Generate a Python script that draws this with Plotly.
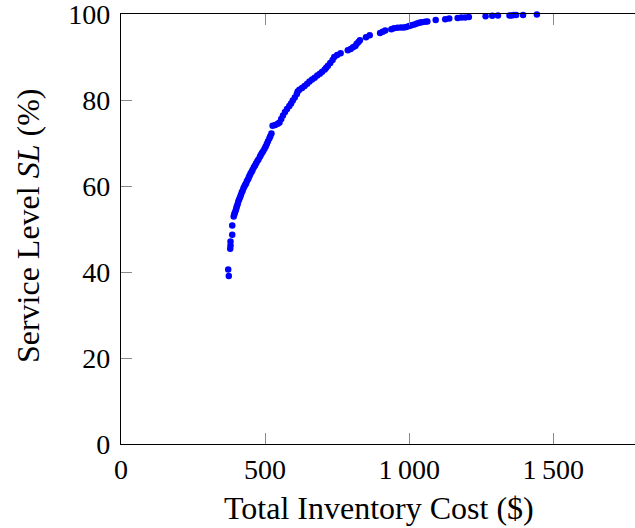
import plotly.graph_objects as go

# Total inventory cost ($) and resulting service level SL (%) per policy
cost = [
    374, 372, 379, 380, 380, 386, 386,
    391, 393, 395, 398, 400, 402, 405, 407, 410, 413, 416, 419, 422, 425,
    428, 431, 434, 437, 441, 444, 447, 450, 454, 457, 461, 465, 469, 473,
    477, 482, 485, 489, 493, 498, 502, 506, 510, 515, 518, 522,
    526, 535, 544, 550, 556, 562, 569, 576, 584, 590,
    596, 603, 610, 613, 619, 628, 637, 646, 654, 663,
    672, 681, 690, 698, 707, 712, 718, 726, 734,
    740, 750, 762, 787, 797, 805, 813, 818, 824, 829, 850, 863, 899,
    908, 917, 938, 947, 959, 971, 981, 990, 1000, 1008, 1018, 1027, 1035,
    1043, 1055, 1063, 1092, 1125, 1139, 1168, 1181, 1194, 1207, 1265, 1288,
    1308, 1348, 1355, 1363, 1371, 1395, 1443,
]
service_level = [
    39.1, 40.6, 45.4, 46.2, 47.1, 48.7, 50.8,
    52.9, 53.4, 53.8, 54.3, 54.8, 55.3, 55.8, 56.4, 56.9, 57.4, 57.9, 58.5, 58.9, 59.5,
    59.9, 60.3, 60.6, 61.2, 61.6, 62.1, 62.5, 63.0, 63.4, 63.8, 64.4, 64.8, 65.3, 65.8,
    66.2, 66.8, 67.2, 67.7, 68.1, 68.7, 69.2, 69.8, 70.4, 71.1, 71.6, 72.2,
    74.0, 74.2, 74.5, 74.8, 75.6, 76.4, 77.2, 77.9, 78.6, 79.2,
    79.9, 80.6, 81.4, 82.0, 82.4, 82.8, 83.3, 83.8, 84.3, 84.8,
    85.2, 85.7, 86.1, 86.6, 87.1, 87.5, 88.0, 88.6, 89.3,
    90.0, 90.5, 90.9, 91.6, 91.9, 92.3, 92.6, 93.1, 93.5, 93.9, 94.6, 95.1, 95.6,
    95.9, 96.2, 96.5, 96.7, 96.8, 96.9, 96.9, 97.0, 97.2, 97.4, 97.6, 97.8, 98.0,
    98.1, 98.2, 98.3, 98.6, 98.8, 99.0, 99.1, 99.2, 99.2, 99.3, 99.5, 99.6,
    99.7, 99.7, 99.7, 99.8, 99.8, 99.8, 99.9,
]

x_tickvals = [0, 500, 1000, 1500]
x_ticktext = ["0", "500", "1\u2009000", "1\u2009500"]
y_tickvals = [0, 20, 40, 60, 80, 100]

FONT = "Liberation Serif"
TICK_GREY = "#8a8a8a"
Y_RANGE = [0, 100.02]

fig = go.Figure()
fig.add_trace(go.Scatter(
    x=cost, y=service_level, mode="markers",
    marker=dict(color="#0000ff", size=6.5, line=dict(width=0)),
    cliponaxis=False, showlegend=False,
))

fig.update_layout(
    width=635, height=528,
    margin=dict(l=121, r=0, t=14, b=84),
    paper_bgcolor="white", plot_bgcolor="white",
    font=dict(family=FONT, size=28, color="black"),
    xaxis=dict(
        range=[0, 1783.5], tickvals=x_tickvals, ticktext=x_ticktext,
        ticks="inside", ticklen=11, tickwidth=1, tickcolor=TICK_GREY,
        showline=True, linecolor="black", linewidth=1.3, mirror="ticks",
        showgrid=False, zeroline=False, ticklabeloverflow="allow",
        tickfont=dict(family=FONT, size=28),
    ),
    yaxis=dict(
        range=Y_RANGE, tickvals=y_tickvals,
        ticks="inside", ticklen=11, tickwidth=1, tickcolor=TICK_GREY,
        showline=True, linecolor="black", linewidth=1.3, mirror=False,
        showgrid=False, zeroline=False, ticklabeloverflow="allow",
        tickfont=dict(family=FONT, size=28),
        ticklabelstandoff=4,
    ),
    yaxis2=dict(
        range=Y_RANGE, tickvals=y_tickvals, overlaying="y", side="right",
        anchor="x", ticks="inside", ticklen=11, tickwidth=1,
        tickcolor=TICK_GREY, showticklabels=False, showline=False,
        showgrid=False, zeroline=False,
    ),
    annotations=[
        dict(text="Total Inventory Cost ($)", xref="paper", yref="paper",
             x=0.502, y=-0.149, xanchor="center", yanchor="middle",
             showarrow=False, font=dict(family=FONT, size=32)),
        dict(text="Service Level <i>SL</i> (%)", xref="paper", yref="paper",
             x=-0.181, y=0.509, xanchor="center", yanchor="middle",
             textangle=-90, showarrow=False, font=dict(family=FONT, size=32)),
    ],
)

fig.write_html("out.html")
